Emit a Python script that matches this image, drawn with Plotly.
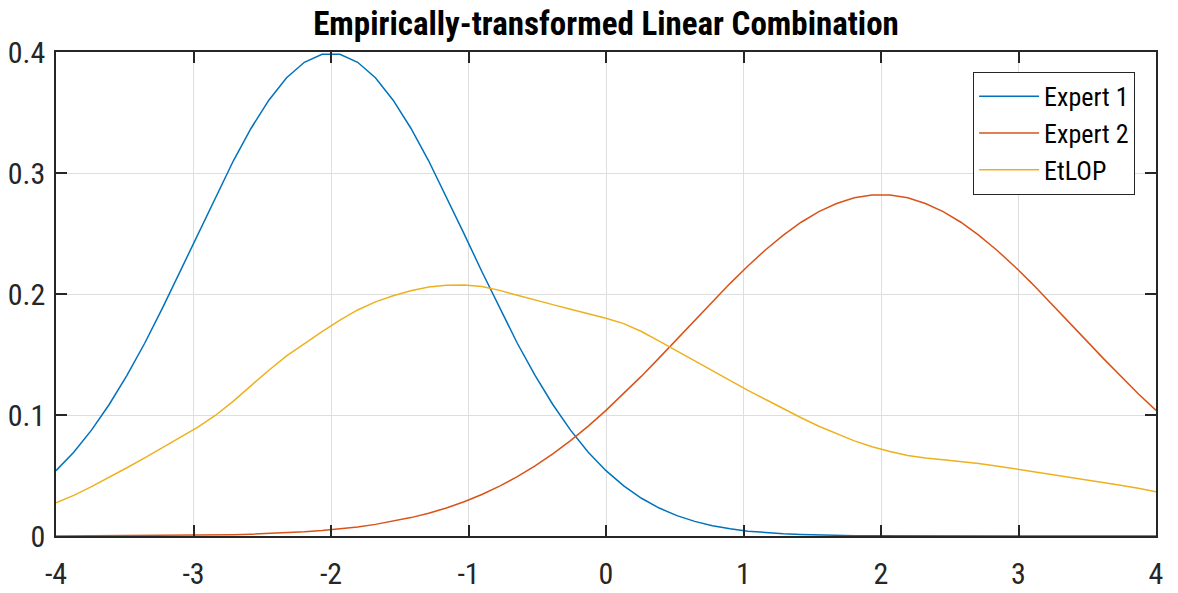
import plotly.graph_objects as go

# x samples (63 points from -4 to 4)
x_vals = [-4.000, -3.871, -3.742, -3.613, -3.484, -3.355, -3.226, -3.097, -2.968, -2.839,
          -2.710, -2.581, -2.452, -2.323, -2.194, -2.065, -1.935, -1.806, -1.677, -1.548,
          -1.419, -1.290, -1.161, -1.032, -0.903, -0.774, -0.645, -0.516, -0.387, -0.258,
          -0.129, 0.000, 0.129, 0.258, 0.387, 0.516, 0.645, 0.774, 0.903, 1.032,
          1.161, 1.290, 1.419, 1.548, 1.677, 1.806, 1.935, 2.065, 2.194, 2.323,
          2.452, 2.581, 2.710, 2.839, 2.968, 3.097, 3.226, 3.355, 3.484, 3.613,
          3.742, 3.871, 4.000]

expert1 = [0.0540, 0.0693, 0.0875, 0.1087, 0.1327, 0.1593, 0.1883, 0.2186, 0.2497, 0.2806,
           0.3101, 0.3370, 0.3602, 0.3787, 0.3915, 0.3981, 0.3981, 0.3915, 0.3787, 0.3602,
           0.3370, 0.3101, 0.2806, 0.2497, 0.2186, 0.1883, 0.1593, 0.1327, 0.1087, 0.0875,
           0.0693, 0.0540, 0.0414, 0.0312, 0.0231, 0.0168, 0.0121, 0.0085, 0.0059, 0.0040,
           0.0027, 0.0018, 0.0012, 0.0007, 0.0005, 0.0003, 0.0002, 0.0001, 0.0001, 0.0000,
           0.0000, 0.0000, 0.0000, 0.0000, 0.0000, 0.0000, 0.0000, 0.0000, 0.0000, 0.0000,
           0.0000, 0.0000, 0.0000]

expert2 = [0.0000, 0.0001, 0.0001, 0.0001, 0.0002, 0.0002, 0.0003, 0.0004, 0.0006, 0.0008,
           0.0011, 0.0015, 0.0020, 0.0026, 0.0035, 0.0045, 0.0059, 0.0075, 0.0096, 0.0121,
           0.0152, 0.0188, 0.0232, 0.0283, 0.0343, 0.0412, 0.0491, 0.0579, 0.0679, 0.0788,
           0.0908, 0.1038, 0.1176, 0.1321, 0.1472, 0.1627, 0.1783, 0.1937, 0.2088, 0.2232,
           0.2366, 0.2487, 0.2593, 0.2681, 0.2748, 0.2795, 0.2818, 0.2818, 0.2795, 0.2748,
           0.2681, 0.2593, 0.2487, 0.2366, 0.2232, 0.2088, 0.1937, 0.1783, 0.1627, 0.1472,
           0.1321, 0.1176, 0.1038]

etlop = [0.0275, 0.0336, 0.0408, 0.0484, 0.0564, 0.0646, 0.0729, 0.0814, 0.0900, 0.0998,
         0.1115, 0.1243, 0.1370, 0.1488, 0.1592, 0.1690, 0.1785, 0.1868, 0.1935, 0.1985,
         0.2026, 0.2057, 0.2072, 0.2075, 0.2062, 0.2030, 0.1990, 0.1948, 0.1912, 0.1874,
         0.1837, 0.1799, 0.1755, 0.1690, 0.1610, 0.1528, 0.1450, 0.1368, 0.1285, 0.1203,
         0.1128, 0.1052, 0.0977, 0.0907, 0.0845, 0.0786, 0.0737, 0.0698, 0.0666, 0.0644,
         0.0630, 0.0617, 0.0600, 0.0579, 0.0557, 0.0533, 0.0509, 0.0487, 0.0465, 0.0442,
         0.0419, 0.0394, 0.0366]

series_names = ["Expert 1", "Expert 2", "EtLOP"]
series_colors = ["#0072BD", "#D95319", "#EDB120"]
x_ticks = [-4, -3, -2, -1, 0, 1, 2, 3, 4]
x_tick_labels = ["-4", "-3", "-2", "-1", "0", "1", "2", "3", "4"]
y_ticks = [0, 0.1, 0.2, 0.3, 0.4]
y_tick_labels = ["0", "0.1", "0.2", "0.3", "0.4"]

FONT = "Liberation Sans Narrow, Arial Narrow, Roboto Condensed, Roboto, sans-serif"

fig = go.Figure()
for name, ys, col in zip(series_names, [expert1, expert2, etlop], series_colors):
    fig.add_trace(go.Scatter(x=x_vals, y=ys, mode="lines", name=name,
                             line=dict(color=col, width=1.5)))

axis_common = dict(showgrid=True, gridcolor="#dedede", gridwidth=1,
                   showline=True, linecolor="#262626", linewidth=1.5,
                   mirror="ticks", ticks="inside", ticklen=11, tickwidth=1.5,
                   tickcolor="#262626", zeroline=False, automargin=False,
                   tickfont=dict(family=FONT, size=30, color="#262626"))

fig.update_layout(
    width=1178, height=593,
    margin=dict(l=56, r=22, t=52, b=57),
    paper_bgcolor="white", plot_bgcolor="white",
    title=dict(text="<b>Empirically-transformed Linear Combination</b>",
               x=(56 + 1156) / 2 / 1178, xanchor="center", y=0.96, yanchor="middle",
               font=dict(family=FONT, size=33, color="black")),
    xaxis=dict(range=[-4, 4], tickvals=x_ticks, ticktext=x_tick_labels,
               ticklabelstandoff=10, **axis_common),
    yaxis=dict(range=[0, 0.4], tickvals=y_ticks, ticktext=y_tick_labels,
               ticklabelstandoff=3, **axis_common),
    legend=dict(x=0.981, xanchor="right", y=0.959, yanchor="top",
                bgcolor="white", bordercolor="#262626", borderwidth=1,
                font=dict(family=FONT, size=26, color="black"),
                tracegroupgap=0, itemwidth=60),
    showlegend=True,
)

fig.write_html("out.html")
